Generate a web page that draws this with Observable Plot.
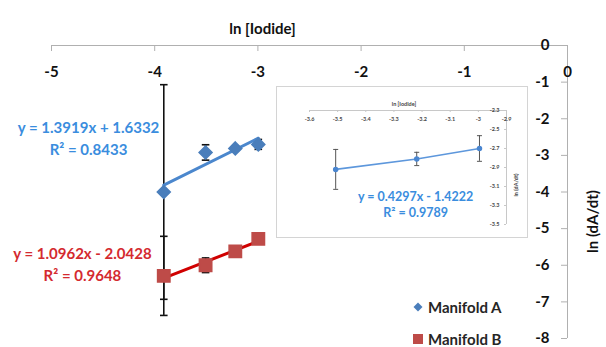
<!DOCTYPE html>
<html>
<head>
<meta charset="utf-8">
<script src="https://cdn.jsdelivr.net/npm/d3@7"></script>
<script src="https://cdn.jsdelivr.net/npm/@observablehq/plot@0.6"></script>
<style>
  html, body { margin: 0; padding: 0; background: #fff; }
  #wrap { position: relative; width: 606px; height: 347px; font-family: Lato, "Open Sans", sans-serif; }
  #inset { position: absolute; left: 276px; top: 86px; width: 250px; height: 150px; border: 1px solid #d4d4d4; background: #fff; }
  #legend { position: absolute; left: 411px; top: 297px; font: bold 15px Lato, "Open Sans", sans-serif; color: #262626; }
  #legend .row { display: flex; align-items: center; height: 20px; margin-bottom: 12px; }
  #legend svg { margin-right: 3px; }
</style>
</head>
<body>
<div id="wrap">
  <div id="main"></div>
  <div id="inset"></div>
  <div id="legend"></div>
</div>
<script>
// ---- data ----
const xValues = [-3.912, -3.507, -3.219, -2.996];          // ln [Iodide]
const seriesNames = ["Manifold A", "Manifold B"];
const manifoldA = [-4.00, -2.92, -2.81, -2.70];              // ln (dA/dt)
const manifoldAErr = [2.93, 0.21, 0.07, 0.135];
const manifoldB = [-6.29, -6.00, -5.62, -5.28];
const manifoldBErr = [1.08, 0.20, 0.15, 0.05];
const equations = ["y = 1.3919x + 1.6332\nR² = 0.8433", "y = 1.0962x - 2.0428\nR² = 0.9648"];
const insetEquation = "y = 0.4297x - 1.4222\nR² = 0.9789";
const xTicks = [-5, -4, -3, -2, -1, 0];
const yTicks = [0, -1, -2, -3, -4, -5, -6, -7, -8];
const insetXTicks = [-3.6, -3.5, -3.4, -3.3, -3.2, -3.1, -3, -2.9];
const insetYTicks = [-2.3, -2.5, -2.7, -2.9, -3.1, -3.3, -3.5];
const xTitle = "ln [Iodide]";
const yTitle = "ln (dA/dt)";

// ---- styles ----
const FONT = 'Lato, "Open Sans", sans-serif';
const blueMarker = "#4a7ebb", blueLine = "#4b87cd", blueText = "#3a8dde";
const redMarker = "#be4b48", redLine = "#d00000", redText = "#d42a2f";
const axisGray = "#b0b0b0";

const rowsA = xValues.map((x, i) => ({x, y: manifoldA[i], err: manifoldAErr[i]}));
const rowsB = xValues.map((x, i) => ({x, y: manifoldB[i], err: manifoldBErr[i]}));

const diamondSym = {draw(ctx) { const r = 6.5; ctx.moveTo(0, -r); ctx.lineTo(r, 0); ctx.lineTo(0, r); ctx.lineTo(-r, 0); ctx.closePath(); }};
const squareSym = {draw(ctx) { ctx.rect(-6.2, -6.2, 12.4, 12.4); }};
const capSym = {draw(ctx) { ctx.moveTo(-3.8, 0); ctx.lineTo(3.8, 0); }};
const smallCap = {draw(ctx) { ctx.moveTo(-2.5, 0); ctx.lineTo(2.5, 0); }};

function errorBars(rows, opts = {}) {
  const {stroke = "#111", strokeWidth = 1.6, cap = capSym} = opts;
  return [
    Plot.ruleX(rows, {x: "x", y1: d => d.y - d.err, y2: d => d.y + d.err, stroke, strokeWidth}),
    Plot.dot(rows, {x: "x", y: d => d.y + d.err, symbol: cap, stroke, strokeWidth, fill: "none"}),
    Plot.dot(rows, {x: "x", y: d => d.y - d.err, symbol: cap, stroke, strokeWidth, fill: "none"})
  ];
}

const fmt = d => String(d);

const main = Plot.plot({
  width: 606, height: 347,
  marginLeft: 51, marginRight: 39, marginTop: 45, marginBottom: 9,
  x: {domain: [-5, 0]},
  y: {domain: [-8, 0]},
  style: {fontFamily: FONT, background: "white"},
  marks: [
    Plot.ruleY([0], {stroke: axisGray}),
    Plot.ruleX([0], {stroke: axisGray}),
    Plot.axisX(xTicks, {anchor: "bottom", frameAnchor: "top", tickSize: 6, tickPadding: 15, stroke: axisGray, fill: "#111", fontSize: 15, fontWeight: "bold", tickFormat: fmt, label: null}),
    Plot.axisY(yTicks, {anchor: "left", frameAnchor: "right", tickSize: 6, tickPadding: 12, stroke: axisGray, fill: "#111", fontSize: 15, fontWeight: "bold", tickFormat: fmt, label: null}),
    Plot.text([xTitle], {frameAnchor: "top", dx: -47, dy: -22, fontSize: 15, fontWeight: "bold", fill: "#111"}),
    Plot.text([yTitle], {frameAnchor: "right", rotate: -90, dx: 26, dy: -2, fontSize: 15, fontWeight: "bold", fill: "#111"}),
    ...errorBars(rowsA),
    ...errorBars(rowsB),
    Plot.linearRegressionY(rowsA, {x: "x", y: "y", stroke: blueLine, strokeWidth: 3, ci: 0}),
    Plot.linearRegressionY(rowsB, {x: "x", y: "y", stroke: redLine, strokeWidth: 3, ci: 0}),
    Plot.dot(rowsA, {x: "x", y: "y", symbol: diamondSym, fill: blueMarker, stroke: blueMarker}),
    Plot.dot(rowsB, {x: "x", y: "y", symbol: squareSym, fill: redMarker, stroke: redMarker}),
    Plot.text([equations[0]], {x: -4.641, y: -2.49, fontSize: 15, fontWeight: "bold", fill: blueText, lineHeight: 1.45}),
    Plot.text([equations[1]], {x: -4.70, y: -5.94, fontSize: 15, fontWeight: "bold", fill: redText, lineHeight: 1.45})
  ]
});
document.getElementById("main").appendChild(main);

// ---- inset ----
const insetRows = rowsA.slice(1);
const inset = Plot.plot({
  width: 250, height: 150,
  marginLeft: 32, marginRight: 21, marginTop: 23, marginBottom: 13,
  x: {domain: [-3.6, -2.9]},
  y: {domain: [-3.5, -2.3]},
  style: {fontFamily: FONT, background: "white"},
  marks: [
    Plot.ruleY([-2.3], {stroke: "#c8c8c8"}),
    Plot.ruleX([-2.9], {stroke: "#c8c8c8"}),
    Plot.axisX(insetXTicks, {anchor: "bottom", frameAnchor: "top", tickSize: 2, tickPadding: 5, stroke: "#c8c8c8", fill: "#444", fontSize: 5.5, fontWeight: "bold", tickFormat: fmt, label: null}),
    Plot.axisY(insetYTicks, {anchor: "left", frameAnchor: "right", tickSize: 2, tickPadding: 5, stroke: "#c8c8c8", fill: "#444", fontSize: 5.5, fontWeight: "bold", tickFormat: fmt, label: null}),
    Plot.text([xTitle], {frameAnchor: "top", dx: -4, dy: -8, fontSize: 5.5, fontWeight: "bold", fill: "#444"}),
    Plot.text([yTitle], {frameAnchor: "right", rotate: -90, dx: 10, dy: 6, fontSize: 5.5, fontWeight: "bold", fill: "#444"}),
    ...errorBars(insetRows, {stroke: "#555", strokeWidth: 1, cap: smallCap}),
    Plot.line(insetRows, {x: "x", y: "y", stroke: "#5d97dc", strokeWidth: 1.6}),
    Plot.dot(insetRows, {x: "x", y: "y", r: 2, fill: "#4a86d0", stroke: "#4a86d0"}),
    Plot.text([insetEquation], {x: -3.223, y: -3.286, fontSize: 12.5, fontWeight: "bold", fill: "#3a8dde", lineHeight: 1.3})
  ]
});
document.getElementById("inset").appendChild(inset);

// ---- legend ----
const legend = document.getElementById("legend");
const swatches = [
  `<svg width="14" height="14" viewBox="-7 -7 14 14"><path d="M0,-4.5L4.5,0L0,4.5L-4.5,0Z" fill="${blueMarker}"/></svg>`,
  `<svg width="14" height="14" viewBox="-7 -7 14 14"><rect x="-5" y="-5" width="10" height="10" fill="${redMarker}"/></svg>`
];
seriesNames.forEach((name, i) => {
  const row = document.createElement("div");
  row.className = "row";
  row.innerHTML = swatches[i] + `<span>${name}</span>`;
  legend.appendChild(row);
});
</script>
</body>
</html>
